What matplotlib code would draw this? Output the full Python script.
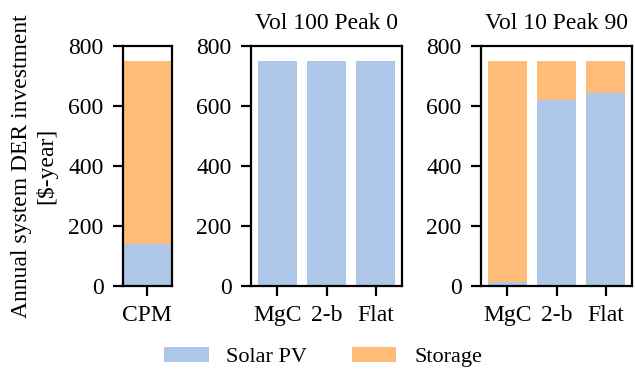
import numpy as np
import matplotlib
matplotlib.use("Agg")
import matplotlib.pyplot as plt

plt.rcParams["font.family"] = ["Liberation Serif", "DejaVu Serif"]
plt.rcParams["font.size"] = 8.5
plt.rcParams["mathtext.fontset"] = "stix"

solar_color = "#aec7e8"
storage_color = "#ffbb78"

# CPM reference case
cpm_labels = ["CPM"]
cpm_solar = [141]
cpm_storage = [609]

# Vol 100 Peak 0
vol100_labels = ["MgC", "2-b", "Flat"]
vol100_solar = [749, 749, 749]
vol100_storage = [1, 1, 1]

# Vol 10 Peak 90
vol10_labels = ["MgC", "2-b", "Flat"]
vol10_solar = [15, 621, 642]
vol10_storage = [735, 129, 108]

fig = plt.figure(figsize=(3.175, 1.855), dpi=200)

W, H = 635.0, 371.0
top, bottom = 46, 286
rects = [(123, 172), (251, 402), (481, 632)]
axes = []
for x0, x1 in rects:
    axes.append(fig.add_axes([x0 / W, 1 - bottom / H, (x1 - x0) / W, (bottom - top) / H]))

panels = [
    (cpm_labels, cpm_solar, cpm_storage, None),
    (vol100_labels, vol100_solar, vol100_storage, "Vol 100 Peak 0"),
    (vol10_labels, vol10_solar, vol10_storage, "Vol 10 Peak 90"),
]

for ax, (labels, solar, storage, title) in zip(axes, panels):
    x = np.arange(len(labels))
    ax.bar(x, solar, width=0.8, color=solar_color, label="Solar PV")
    ax.bar(x, storage, width=0.8, bottom=solar, color=storage_color, label="Storage")
    ax.set_xticks(x)
    ax.set_xticklabels(labels)
    ax.set_ylim(0, 800)
    ax.set_yticks([0, 200, 400, 600, 800])
    if title:
        ax.set_title(title, fontsize=8.5)

axes[0].set_xlim(-0.41, 0.42)
axes[0].set_ylabel("Annual system DER investment\n[\\$-year]")

handles, lbls = axes[0].get_legend_handles_labels()
fig.legend(handles, lbls, loc="center", bbox_to_anchor=(323 / W, 1 - 357 / H),
           ncol=2, frameon=False, fontsize=8)

fig.savefig("out.png", dpi=200)
